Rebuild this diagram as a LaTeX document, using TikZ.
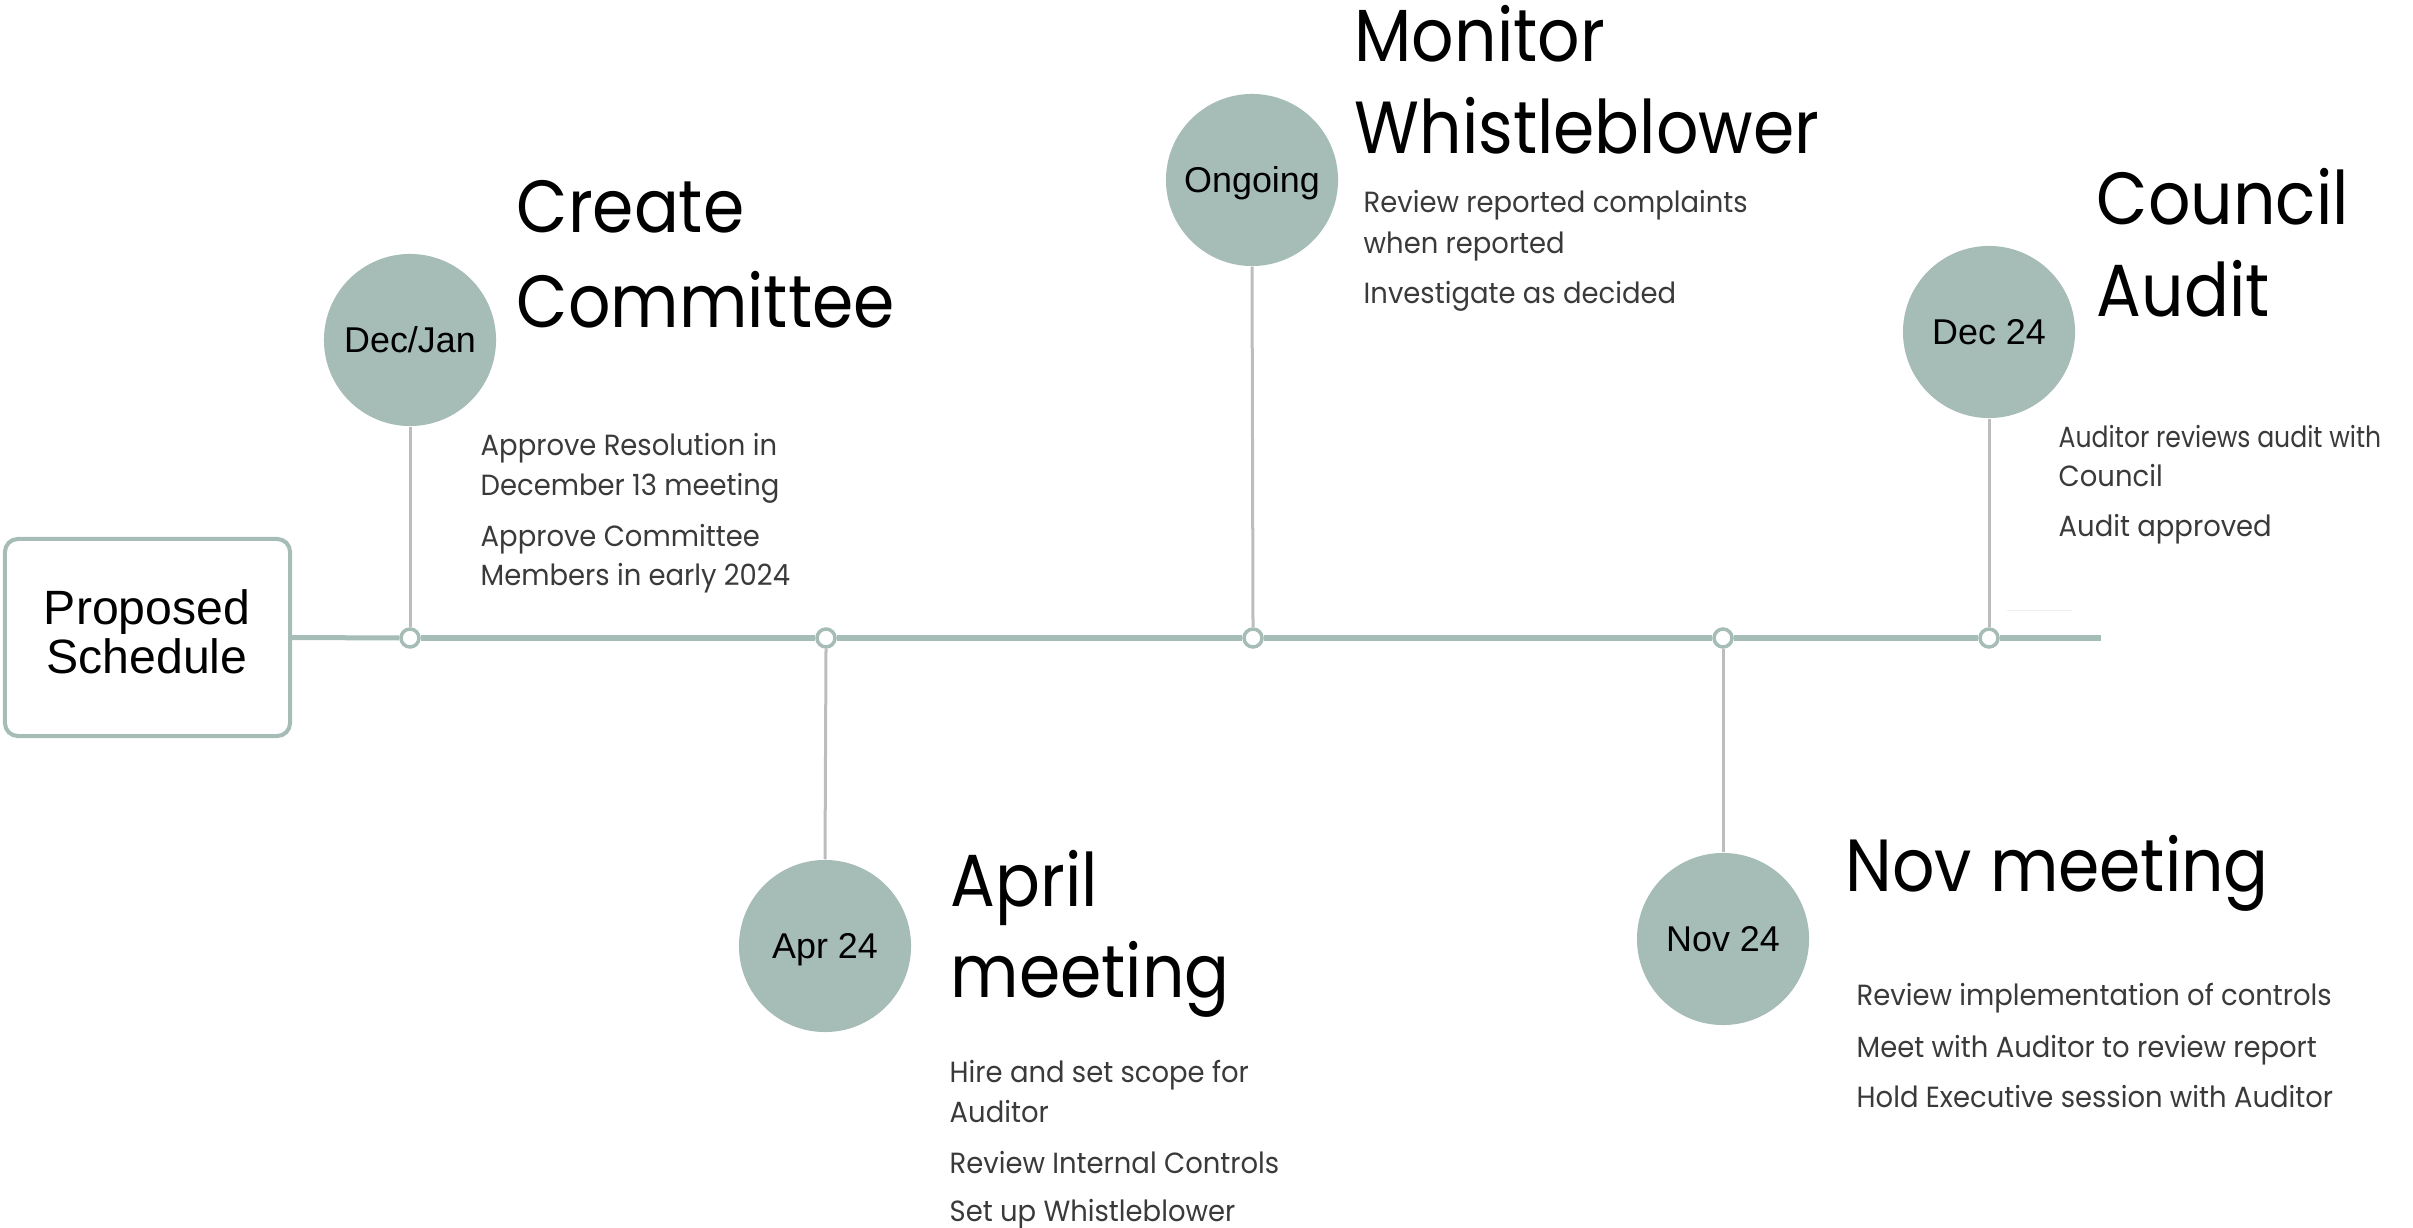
\documentclass[tikz,border=0pt]{standalone}
\usepackage{fontspec}
\setmainfont{Liberation Sans}
\newfontfamily\headfont[FakeStretch=0.9]{Poppins}
\newfontfamily\bodyfont[FakeStretch=0.94]{Poppins}
\newfontfamily\tightbodyfont[FakeStretch=0.86]{Poppins}
\definecolor{sage}{HTML}{A5BCB7}
\definecolor{stemgray}{HTML}{BDBDBD}
\definecolor{bodygray}{HTML}{3A3A3A}
\definecolor{faint}{HTML}{EEEEEE}
\begin{document}
\begin{tikzpicture}[x=0.01cm,y=-0.01cm,
  startbox/.style={draw=sage, line width=0.04cm, rounded corners=0.13cm, fill=white,
    minimum width=2.85cm, minimum height=1.97cm, inner sep=0pt},
  startlabel/.style={inner sep=0pt, align=center,
    font=\fontsize{13.7pt}{13.9pt}\selectfont},
  datecircle/.style={circle, fill=sage, minimum size=1.72cm, inner sep=0pt,
    text height=0.25cm, text depth=0cm,
    font=\fontsize{10.2pt}{12pt}\selectfont},
  dot/.style={circle, draw=sage, fill=white, line width=0.035cm, minimum size=0.18cm, inner sep=0pt},
  heading/.style={anchor=base west, inner sep=0pt, font=\headfont\fontsize{21pt}{25pt}\selectfont},
  item/.style={anchor=base west, inner sep=0pt, text=bodygray, font=\bodyfont\fontsize{8.3pt}{10pt}\selectfont},
  tightitem/.style={item, font=\tightbodyfont\fontsize{8.3pt}{10pt}\selectfont},
  timeline/.style={draw=sage, line width=0.05cm},
  stem/.style={draw=stemgray, line width=0.03cm}
]
\useasboundingbox (0,0) rectangle (2413,1228);

% start box and its caption
\node[startbox] (start) at (147.5,637.5) {};
\node[startlabel] (startcap) at (147,632) {Proposed\\Schedule};

% points on the timeline
\node[dot] (p1) at (410,638) {};
\node[dot] (p2) at (826,638) {};
\node[dot] (p3) at (1253,638) {};
\node[dot] (p4) at (1723,638) {};
\node[dot] (p5) at (1989,638) {};
\coordinate (tend) at (2101,638);

% date circles
\node[datecircle] (c1) at (410,340) {Dec/Jan};
\node[datecircle] (c2) at (825,946) {Apr 24};
\node[datecircle] (c3) at (1252,180) {Ongoing};
\node[datecircle] (c4) at (1723,939) {Nov 24};
\node[datecircle] (c5) at (1989,332) {Dec 24};

% timeline segments
\draw[timeline] (start.east) -- (p1.west);
\draw[timeline] (p1.east) -- (p2.west);
\draw[timeline] (p2.east) -- (p3.west);
\draw[timeline] (p3.east) -- (p4.west);
\draw[timeline] (p4.east) -- (p5.west);
\draw[timeline] (p5.east) -- (tend);

% stems
\draw[stem] (c1.south) -- (p1.north);
\draw[stem] (p2.south) -- (c2.north);
\draw[stem] (c3.south) -- (p3.north);
\draw[stem] (p4.south) -- (c4.north);
\draw[stem] (c5.south) -- (p5.north);

% faint rule beside the last stem
\coordinate (fa) at (2007,610);
\coordinate (fb) at (2072,610);
\draw[faint, line width=0.01cm] (fa) -- (fb);

% headings
\node[heading] (h1a) at (516,233) {Create};
\node[heading] (h1b) at (516,328) {Committee};
\node[heading] (h3a) at (1354,62) {Monitor};
\node[heading] (h3b) at (1354,154) {Whistleblower};
\node[heading] (h5a) at (2096,225) {Council};
\node[heading] (h5b) at (2096,317) {Audit};
\node[heading] (h2a) at (950,906) {April};
\node[heading] (h2b) at (950,997) {meeting};
\node[heading] (h4a) at (1845,891) {Nov meeting};

% items
\node[item] (t1a) at (480,456) {Approve Resolution in};
\node[item] (t1b) at (480,495) {December 13 meeting};
\node[item] (t1c) at (480,547) {Approve Committee};
\node[item] (t1d) at (480,585) {Members in early 2024};

\node[item] (t3a) at (1363,213) {Review reported complaints};
\node[item] (t3b) at (1363,254) {when reported};
\node[item] (t3c) at (1363,304) {Investigate as decided};

\node[tightitem] (t5a) at (2058,448) {Auditor reviews audit with};
\node[item] (t5b) at (2058,487) {Council};
\node[item] (t5c) at (2058,537) {Audit approved};

\node[item] (t2a) at (949,1082) {Hire and set scope for};
\node[item] (t2b) at (949,1122) {Auditor};
\node[item] (t2c) at (949,1173) {Review Internal Controls};
\node[item] (t2d) at (949,1221) {Set up Whistleblower};

\node[item] (t4a) at (1856,1005) {Review implementation of controls};
\node[item] (t4b) at (1856,1057) {Meet with Auditor to review report};
\node[item] (t4c) at (1856,1107) {Hold Executive session with Auditor};
\end{tikzpicture}
\end{document}
